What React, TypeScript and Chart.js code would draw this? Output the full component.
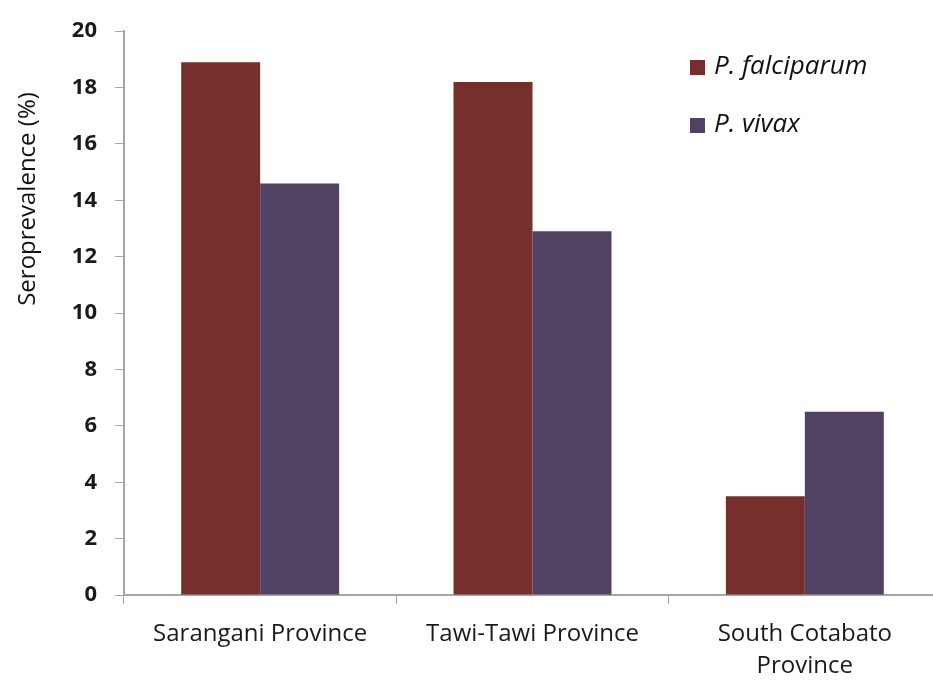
import React, { useEffect, useRef } from "react";
import { Chart, registerables } from "chart.js";

Chart.register(...registerables);

const categories: (string | string[])[] = [
  "Sarangani Province",
  "Tawi-Tawi Province",
  ["South Cotabato", "Province"],
];
const seriesNames = ["P. falciparum", "P. vivax"];
const falciparum = [18.9, 18.2, 3.5];
const vivax = [14.6, 12.9, 6.5];
const seriesColors = ["#772F2E", "#514163"];
const yTitle = "Seroprevalence (%)";
const yMin = 0;
const yMax = 20;
const yStep = 2;

const FONT = "'Open Sans', 'DejaVu Sans', sans-serif";

const legendPlugin = {
  id: "customLegend",
  afterDraw(chart: any) {
    const ctx = chart.ctx;
    ctx.save();
    chart.data.datasets.forEach((ds: any, i: number) => {
      const y = 60 + i * 58;
      ctx.fillStyle = ds.backgroundColor;
      ctx.fillRect(690, y, 15, 15);
      ctx.fillStyle = "#111";
      ctx.font = `italic 26px ${FONT}`;
      ctx.textBaseline = "middle";
      ctx.textAlign = "left";
      ctx.fillText(ds.label, 714, y + 7);
    });
    ctx.restore();
  },
};

const yTitlePlugin = {
  id: "yTitle",
  afterDraw(chart: any) {
    const ctx = chart.ctx;
    ctx.save();
    ctx.translate(28, 199);
    ctx.rotate(-Math.PI / 2);
    ctx.fillStyle = "#111";
    ctx.font = `24px ${FONT}`;
    ctx.textAlign = "center";
    ctx.textBaseline = "middle";
    ctx.fillText(yTitle, 0, 0);
    ctx.restore();
  },
};

export default function App() {
  const ref = useRef<HTMLCanvasElement>(null);
  useEffect(() => {
    if (!ref.current) return;
    const chart = new Chart(ref.current, {
      type: "bar",
      data: {
        labels: categories,
        datasets: [
          { label: seriesNames[0], data: falciparum, backgroundColor: seriesColors[0] },
          { label: seriesNames[1], data: vivax, backgroundColor: seriesColors[1] },
        ],
      },
      options: {
        responsive: false,
        animation: false,
        layout: { padding: { top: 20, right: 4, left: 0, bottom: 0 } },
        datasets: { bar: { categoryPercentage: 0.58, barPercentage: 1 } },
        plugins: { legend: { display: false }, tooltip: { enabled: false } },
        scales: {
          x: {
            grid: {
              display: true,
              drawOnChartArea: false,
              drawTicks: true,
              tickLength: 9,
              color: "#a6a6a6",
              offset: true,
            },
            border: { display: true, color: "#a6a6a6", width: 2 },
            ticks: {
              color: "#1a1a1a",
              font: { family: FONT, size: 24, lineHeight: 1.33 },
              padding: 14,
              maxRotation: 0,
              autoSkip: false,
            },
            afterFit(scale: any) {
              scale.height = 85;
            },
          },
          y: {
            min: yMin,
            max: yMax,
            grid: {
              display: true,
              drawOnChartArea: false,
              drawTicks: true,
              tickLength: 9,
              color: "#a6a6a6",
            },
            border: { display: true, color: "#a6a6a6", width: 2 },
            ticks: {
              stepSize: yStep,
              color: "#1a1a1a",
              font: { family: FONT, size: 22, weight: "bold" },
              padding: 18,
            },
            afterFit(scale: any) {
              scale.width = 124;
            },
          },
        },
      },
      plugins: [legendPlugin, yTitlePlugin],
    });
    return () => chart.destroy();
  }, []);
  return (
    <div
      style={{
        position: "absolute",
        left: 0,
        top: 0,
        width: 933,
        height: 680,
        overflow: "hidden",
        background: "#fff",
      }}
    >
      <canvas ref={ref} width={945} height={680} style={{ display: "block" }} />
    </div>
  );
}
